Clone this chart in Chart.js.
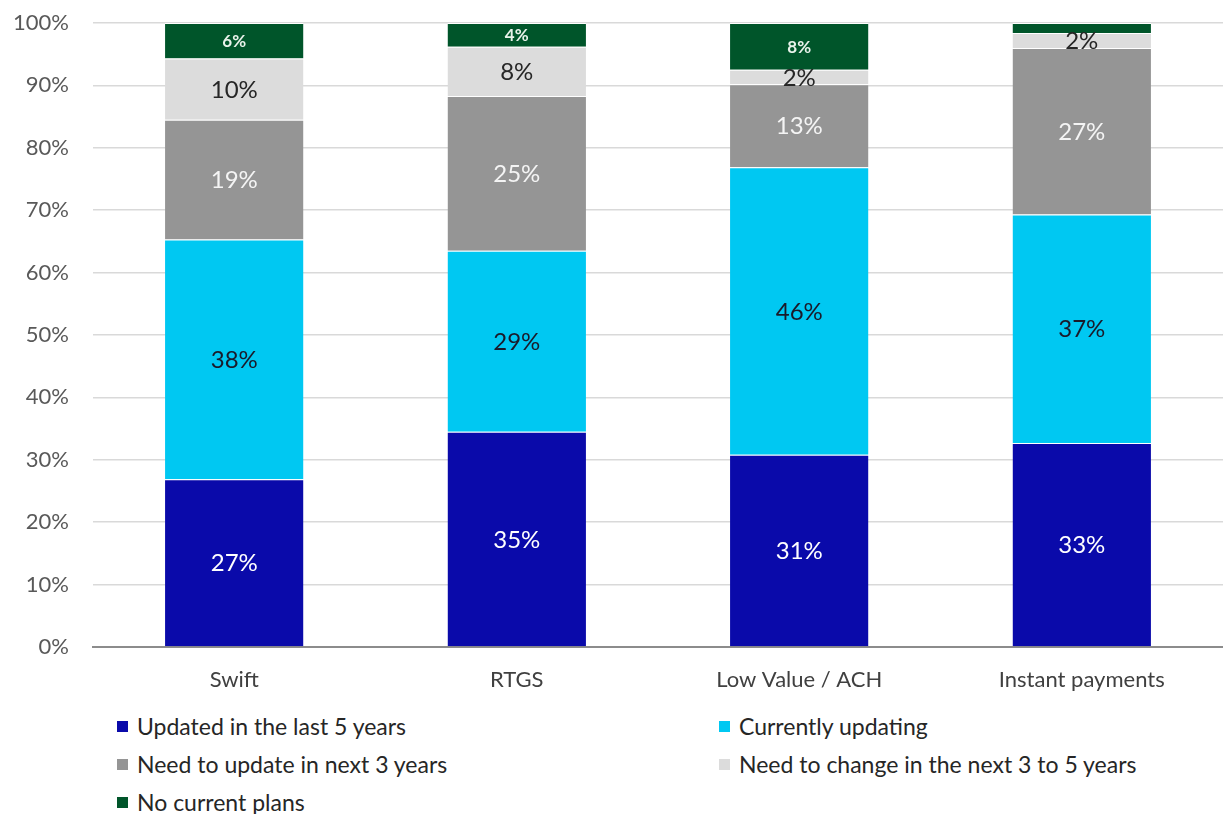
<!DOCTYPE html>
<html>
<head>
<meta charset="utf-8">
<title>Payment systems update status</title>
<script src="https://cdn.jsdelivr.net/npm/chart.js@4.4.1/dist/chart.umd.min.js"></script>
<style>
    body { margin: 0; background: #fff; }
    #wrap { position: relative; width: 1223px; height: 814px; font-family: Lato, "Liberation Sans", sans-serif; }
    #chart-box { position: absolute; left: 0; top: 0; width: 1223px; height: 700px; }
    #legend {
        position: absolute; left: 117px; top: 707px;
        display: grid; grid-template-columns: 602px auto;
        font-size: 23px; color: #262626;
    }
    .legend-item { display: flex; align-items: center; height: 38px; white-space: nowrap; }
    .legend-box { width: 11px; height: 11px; margin-right: 9px; flex: none; }
</style>
</head>
<body>
<div id="wrap">
    <div id="chart-box"><canvas id="statusChart"></canvas></div>
    <div id="legend"></div>
</div>
<script>
// Kategori sistem pembayaran
const categories = ['Swift', 'RTGS', 'Low Value / ACH', 'Instant payments'];

// Persentase tiap status (per kategori)
const updatedLast5 = [26.9, 34.5, 30.8, 32.7];
const currentlyUpdating = [38.4, 29.0, 46.1, 36.6];
const needUpdate3 = [19.2, 24.8, 13.3, 26.7];
const needChange3to5 = [9.8, 7.9, 2.3, 2.4];
const noPlans = [5.7, 3.8, 7.5, 1.6];

const yTicks = [0, 10, 20, 30, 40, 50, 60, 70, 80, 90, 100];

const seriesNames = [
    'Updated in the last 5 years',
    'Currently updating',
    'Need to update in next 3 years',
    'Need to change in the next 3 to 5 years',
    'No current plans'
];
const seriesColors = ['#0a0aaa', '#00c8f2', '#959595', '#dcdcdc', '#00552a'];
const labelColors = ['#ffffff', '#1a1a2a', '#f4f4f4', '#262626', '#e8f2ea'];
const labelFonts = ['24px Lato', '24px Lato', '24px Lato', '24px Lato', 'bold 17px Lato'];

const seriesData = [updatedLast5, currentlyUpdating, needUpdate3, needChange3to5, noPlans];

// Plugin kecil untuk menulis persentase di tengah tiap segmen
const segmentLabels = {
    id: 'segmentLabels',
    afterDatasetsDraw(chart) {
        const ctx = chart.ctx;
        chart.data.datasets.forEach((ds, di) => {
            const meta = chart.getDatasetMeta(di);
            meta.data.forEach((bar, i) => {
                const v = ds.data[i];
                if (v < 2) return; // segmen terlalu tipis, tanpa label
                ctx.save();
                ctx.font = labelFonts[di];
                ctx.fillStyle = labelColors[di];
                ctx.textAlign = 'center';
                ctx.textBaseline = 'middle';
                ctx.fillText(Math.round(v) + '%', bar.x, (bar.y + bar.base) / 2 + 1);
                ctx.restore();
            });
        });
    }
};

const datasets = seriesData.map((data, i) => ({
    label: seriesNames[i],
    data: data,
    backgroundColor: seriesColors[i],
    borderColor: '#ffffff',
    borderWidth: { top: 1, right: 0, bottom: 0, left: 0 },
    borderSkipped: false,
    barPercentage: 0.49,
    categoryPercentage: 1.0
}));

const chart = new Chart(document.getElementById('statusChart'), {
    type: 'bar',
    data: { labels: categories, datasets: datasets },
    options: {
        responsive: true,
        maintainAspectRatio: false,
        animation: false,
        layout: { padding: { top: 23, right: 0, left: 0, bottom: 0 } },
        scales: {
            x: {
                stacked: true,
                grid: { display: false, drawTicks: false },
                border: { display: true, color: '#8c8c8c', width: 2 },
                ticks: { color: '#404040', font: { family: 'Lato', size: 22 }, padding: 20 },
                afterFit: (s) => { s.height = 53; s.paddingLeft = 0; s.paddingRight = 0; }
            },
            y: {
                stacked: true,
                min: 0,
                max: 100,
                afterBuildTicks: (s) => { s.ticks = yTicks.map(v => ({ value: v })); },
                grid: { color: '#d9d9d9', lineWidth: 1.5, drawTicks: false },
                border: { display: false },
                ticks: {
                    color: '#595959',
                    font: { family: 'Lato', size: 22 },
                    padding: 24,
                    callback: (v) => v + '%'
                },
                afterFit: (s) => { s.width = 93; s.paddingTop = 0; s.paddingBottom = 0; }
            }
        },
        plugins: {
            legend: { display: false },
            tooltip: { enabled: false }
        }
    },
    plugins: [segmentLabels]
});

// Legenda HTML dua kolom
const legendEl = document.getElementById('legend');
chart.data.datasets.forEach(ds => {
    const item = document.createElement('div');
    item.className = 'legend-item';
    const box = document.createElement('span');
    box.className = 'legend-box';
    box.style.background = ds.backgroundColor;
    const txt = document.createElement('span');
    txt.textContent = ds.label;
    item.appendChild(box);
    item.appendChild(txt);
    legendEl.appendChild(item);
});
</script>
</body>
</html>
